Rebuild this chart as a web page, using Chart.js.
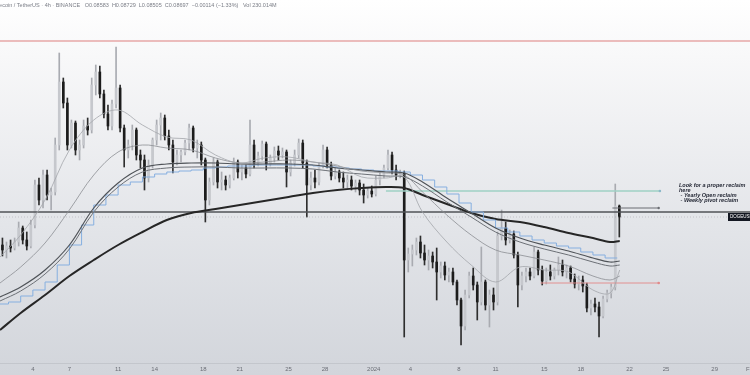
<!DOCTYPE html>
<html>
<head>
<meta charset="utf-8">
<script src="https://cdn.jsdelivr.net/npm/chart.js@4.4.1/dist/chart.umd.min.js"></script>
<style>
  html, body { margin: 0; padding: 0; background: #fff; }
  #wrap { width: 750px; height: 375px; position: relative; }
</style>
</head>
<body>
<div id="wrap"><canvas id="chart"></canvas></div>
<script>
// x positions are days counted from Dec 1 (Jan 1 = 32)
const tickDays = [4, 7, 11, 14, 18, 21, 25, 28, 32, 35, 39, 42, 46, 49, 53, 56, 60, 63];
const tickLabels = ['4', '7', '11', '14', '18', '21', '25', '28', '2024', '4', '8', '11', '15', '18', '22', '25', '29', 'Feb'];

// candles, one every 8h starting at day 1.5
const firstDay = 1.5;
const candleStep = 1 / 3;

const opens = [
  0.0837, 0.0832, 0.0836, 0.0834, 0.0840, 0.0854, 0.0842, 0.0836, 0.0857, 0.0897,
  0.0882, 0.0907, 0.0887, 0.0890, 0.0937, 0.1000, 0.0979, 0.0937, 0.0959, 0.0932,
  0.0937, 0.0956, 0.0952, 0.0997, 0.1010, 0.0988, 0.0968, 0.0956, 0.0978, 0.0994,
  0.0954, 0.0932, 0.0937, 0.0952, 0.0927, 0.0922, 0.0904, 0.0917, 0.0942, 0.0957,
  0.0964, 0.0946, 0.0937, 0.0920, 0.0927, 0.0930, 0.0939, 0.0954, 0.0934, 0.0937,
  0.0922, 0.0882, 0.0900, 0.0920, 0.0900, 0.0902, 0.0897, 0.0904, 0.0920, 0.0910,
  0.0914, 0.0908, 0.0937, 0.0919, 0.0926, 0.0938, 0.0918, 0.0924, 0.0931, 0.0927,
  0.0930, 0.0910, 0.0919, 0.0927, 0.0939, 0.0919, 0.0897, 0.0904, 0.0900, 0.0916,
  0.0932, 0.0917, 0.0906, 0.0910, 0.0904, 0.0900, 0.0902, 0.0896, 0.0899, 0.0892,
  0.0887, 0.0891, 0.0888, 0.0902, 0.0907, 0.0914, 0.0927, 0.0912, 0.0907, 0.0909,
  0.0822, 0.0828, 0.0832, 0.0840, 0.0829, 0.0822, 0.0826, 0.0820, 0.0810, 0.0816,
  0.0807, 0.0810, 0.0800, 0.0782, 0.0756, 0.0787, 0.0806, 0.0797, 0.0780, 0.0800,
  0.0777, 0.0787, 0.0780, 0.0846, 0.0854, 0.0842, 0.0848, 0.0827, 0.0797, 0.0806,
  0.0810, 0.0806, 0.0830, 0.0812, 0.0801, 0.0810, 0.0806, 0.0812, 0.0817, 0.0810,
  0.0814, 0.0803, 0.0798, 0.0802, 0.0796, 0.0774, 0.0778, 0.0775, 0.0766, 0.0783,
  0.0789, 0.0795, 0.0876
];
const highs = [
  0.0844, 0.0840, 0.0842, 0.0844, 0.0860, 0.0856, 0.0850, 0.0862, 0.0902, 0.0904,
  0.0912, 0.0912, 0.0894, 0.0944, 0.1029, 0.1004, 0.0984, 0.0962, 0.0961, 0.0942,
  0.0962, 0.0964, 0.1004, 0.1017, 0.1016, 0.0992, 0.0977, 0.0982, 0.1035, 0.0997,
  0.0957, 0.0942, 0.0957, 0.0954, 0.0932, 0.0927, 0.0922, 0.0944, 0.0962, 0.0969,
  0.0967, 0.0952, 0.0942, 0.0932, 0.0932, 0.0942, 0.0958, 0.0956, 0.0942, 0.0940,
  0.0924, 0.0904, 0.0924, 0.0922, 0.0910, 0.0906, 0.0907, 0.0924, 0.0922, 0.0917,
  0.0917, 0.0962, 0.0942, 0.0930, 0.0941, 0.0940, 0.0927, 0.0935, 0.0936, 0.0934,
  0.0932, 0.0922, 0.0932, 0.0943, 0.0942, 0.0922, 0.0910, 0.0912, 0.0919, 0.0937,
  0.0935, 0.0920, 0.0914, 0.0912, 0.0910, 0.0907, 0.0906, 0.0902, 0.0902, 0.0898,
  0.0894, 0.0896, 0.0906, 0.0910, 0.0917, 0.0932, 0.0930, 0.0917, 0.0912, 0.0911,
  0.0834, 0.0837, 0.0844, 0.0846, 0.0837, 0.0832, 0.0830, 0.0834, 0.0820, 0.0820,
  0.0814, 0.0814, 0.0802, 0.0784, 0.0792, 0.0810, 0.0814, 0.0800, 0.0835, 0.0802,
  0.0792, 0.0794, 0.0850, 0.0872, 0.0860, 0.0852, 0.0851, 0.0830, 0.0810, 0.0814,
  0.0814, 0.0835, 0.0832, 0.0816, 0.0814, 0.0817, 0.0814, 0.0825, 0.0822, 0.0817,
  0.0816, 0.0808, 0.0806, 0.0806, 0.0799, 0.0782, 0.0784, 0.0780, 0.0786, 0.0792,
  0.0798, 0.0898, 0.0877
];
const lows = [
  0.0826, 0.0824, 0.0830, 0.0832, 0.0836, 0.0838, 0.0832, 0.0834, 0.0854, 0.0877,
  0.0874, 0.0882, 0.0872, 0.0887, 0.0932, 0.0974, 0.0932, 0.0934, 0.0927, 0.0922,
  0.0934, 0.0947, 0.0949, 0.0987, 0.0984, 0.0964, 0.0952, 0.0952, 0.0974, 0.0950,
  0.0915, 0.0924, 0.0932, 0.0922, 0.0914, 0.0892, 0.0900, 0.0914, 0.0937, 0.0942,
  0.0942, 0.0932, 0.0909, 0.0917, 0.0920, 0.0927, 0.0932, 0.0930, 0.0924, 0.0917,
  0.0860, 0.0877, 0.0897, 0.0894, 0.0892, 0.0892, 0.0894, 0.0902, 0.0904, 0.0902,
  0.0904, 0.0906, 0.0914, 0.0916, 0.0922, 0.0912, 0.0916, 0.0920, 0.0922, 0.0924,
  0.0895, 0.0906, 0.0916, 0.0924, 0.0914, 0.0865, 0.0892, 0.0894, 0.0897, 0.0914,
  0.0914, 0.0902, 0.0903, 0.0900, 0.0894, 0.0894, 0.0892, 0.0890, 0.0887, 0.0879,
  0.0884, 0.0885, 0.0886, 0.0897, 0.0904, 0.0912, 0.0908, 0.0902, 0.0904, 0.0745,
  0.0810, 0.0816, 0.0827, 0.0824, 0.0817, 0.0812, 0.0814, 0.0782, 0.0804, 0.0802,
  0.0800, 0.0797, 0.0777, 0.0737, 0.0752, 0.0784, 0.0792, 0.0762, 0.0777, 0.0772,
  0.0755, 0.0772, 0.0777, 0.0842, 0.0837, 0.0839, 0.0824, 0.0775, 0.0792, 0.0800,
  0.0802, 0.0804, 0.0807, 0.0797, 0.0798, 0.0802, 0.0803, 0.0807, 0.0806, 0.0804,
  0.0800, 0.0794, 0.0792, 0.0790, 0.0770, 0.0767, 0.0770, 0.0745, 0.0764, 0.0780,
  0.0784, 0.0792, 0.0845
];
const closes = [
  0.0832, 0.0836, 0.0834, 0.0840, 0.0854, 0.0842, 0.0836, 0.0857, 0.0897, 0.0882,
  0.0907, 0.0887, 0.0890, 0.0937, 0.1000, 0.0979, 0.0937, 0.0959, 0.0932, 0.0937,
  0.0956, 0.0952, 0.0997, 0.1010, 0.0988, 0.0968, 0.0956, 0.0978, 0.0994, 0.0954,
  0.0932, 0.0937, 0.0952, 0.0927, 0.0922, 0.0904, 0.0917, 0.0942, 0.0957, 0.0964,
  0.0946, 0.0937, 0.0920, 0.0927, 0.0930, 0.0939, 0.0954, 0.0934, 0.0937, 0.0922,
  0.0882, 0.0900, 0.0920, 0.0900, 0.0902, 0.0897, 0.0904, 0.0920, 0.0910, 0.0914,
  0.0908, 0.0937, 0.0919, 0.0926, 0.0938, 0.0918, 0.0924, 0.0931, 0.0927, 0.0930,
  0.0910, 0.0919, 0.0927, 0.0939, 0.0919, 0.0897, 0.0904, 0.0900, 0.0916, 0.0932,
  0.0917, 0.0906, 0.0910, 0.0904, 0.0900, 0.0902, 0.0896, 0.0899, 0.0892, 0.0887,
  0.0891, 0.0888, 0.0902, 0.0907, 0.0914, 0.0927, 0.0912, 0.0907, 0.0909, 0.0822,
  0.0828, 0.0832, 0.0840, 0.0829, 0.0822, 0.0826, 0.0820, 0.0810, 0.0816, 0.0807,
  0.0810, 0.0800, 0.0782, 0.0756, 0.0787, 0.0806, 0.0797, 0.0780, 0.0800, 0.0777,
  0.0787, 0.0780, 0.0846, 0.0854, 0.0842, 0.0848, 0.0827, 0.0797, 0.0806, 0.0810,
  0.0806, 0.0830, 0.0812, 0.0801, 0.0810, 0.0806, 0.0812, 0.0817, 0.0810, 0.0814,
  0.0803, 0.0798, 0.0802, 0.0796, 0.0774, 0.0778, 0.0775, 0.0766, 0.0783, 0.0789,
  0.0795, 0.0876, 0.0865
];

// moving averages sampled along the chart
const maDays = [1.3, 3, 5, 7, 9, 11, 13, 15, 17, 19, 21, 23, 25, 27, 29, 31, 33, 34.5, 36, 38, 40, 42, 44, 46, 48, 50, 51.4, 52.2];
const ema21 = [0.0825, 0.0847, 0.0882, 0.0932, 0.0962, 0.0972, 0.0957, 0.0945, 0.0942, 0.0927, 0.0919, 0.0924, 0.0925, 0.0920, 0.0917, 0.0905, 0.0904, 0.0905, 0.0870, 0.0840, 0.0817, 0.0800, 0.0815, 0.0812, 0.0810, 0.0792, 0.0789, 0.0812];
const ema55 = [0.0799, 0.0815, 0.0839, 0.0872, 0.0907, 0.0930, 0.0937, 0.0934, 0.0932, 0.0924, 0.0919, 0.0920, 0.0922, 0.0920, 0.0916, 0.0911, 0.0909, 0.0907, 0.0890, 0.0867, 0.0847, 0.0832, 0.0827, 0.0822, 0.0816, 0.0806, 0.0802, 0.0806];
const ema100 = [0.0785, 0.0795, 0.0812, 0.0837, 0.0874, 0.0899, 0.0914, 0.0918, 0.0919, 0.0919, 0.0918, 0.0918, 0.0918, 0.0917, 0.0914, 0.0912, 0.0910, 0.0909, 0.0900, 0.0884, 0.0869, 0.0854, 0.0844, 0.0837, 0.0831, 0.0824, 0.0820, 0.0821];
const sma100 = [0.0781, 0.0791, 0.0808, 0.0833, 0.0870, 0.0895, 0.0910, 0.0914, 0.0915, 0.0915, 0.0914, 0.0914, 0.0914, 0.0913, 0.0910, 0.0908, 0.0906, 0.0905, 0.0896, 0.0880, 0.0865, 0.0850, 0.0840, 0.0833, 0.0827, 0.0820, 0.0816, 0.0817];
const ema200 = [0.0752, 0.0769, 0.0787, 0.0806, 0.0822, 0.0837, 0.0850, 0.0862, 0.0869, 0.0873, 0.0877, 0.0881, 0.0885, 0.0889, 0.0892, 0.0894, 0.0895, 0.0894, 0.0887, 0.0878, 0.0869, 0.0863, 0.0860, 0.0855, 0.0849, 0.0844, 0.0840, 0.0841];

// blue stepped line
const stepDays = [1.3, 2, 3, 4, 5, 6, 7, 8, 9, 10, 11, 12, 13, 14, 15, 16, 17, 18, 19, 20, 21, 22, 23, 24, 25, 26, 27, 28, 29, 30, 31, 32, 33, 34, 35, 36, 37, 38, 39, 40, 41, 42, 43, 44, 45, 46, 47, 48, 49, 50, 51, 52];
const stepLine = [0.0778, 0.0780, 0.0786, 0.0792, 0.0800, 0.0817, 0.0837, 0.0857, 0.0877, 0.0887, 0.0897, 0.0900, 0.0905, 0.0908, 0.0910, 0.0911, 0.0912, 0.0914, 0.0915, 0.0916, 0.0916, 0.0917, 0.0917, 0.0917, 0.0917, 0.0917, 0.0916, 0.0915, 0.0914, 0.0913, 0.0912, 0.0911, 0.0911, 0.0910, 0.0907, 0.0902, 0.0895, 0.0888, 0.0879, 0.0870, 0.0862, 0.0854, 0.0850, 0.0846, 0.0842, 0.0839, 0.0836, 0.0834, 0.0830, 0.0827, 0.0824, 0.0824];

// drawn levels
const resistance = 0.1041;
const yearlyOpen = 0.0870;
const reclaimLevel = 0.0891;
const retestLevel = 0.0874;
const supportLevel = 0.0799;
const lastPrice = closes[closes.length - 1];

const xMin = 1.3, xMax = 62.9;
const candleX = opens.map((_, i) => firstDay + i * candleStep);
const isUp = i => closes[i] >= opens[i];

let line = (xs, ys, color, width, extra) => Object.assign({
  type: 'line',
  data: xs.map((x, i) => ({ x: x, y: ys[i] })),
  borderColor: color,
  borderWidth: width,
  pointRadius: 0,
  pointHoverRadius: 0,
  tension: 0.35,
  fill: false,
  order: 1
}, extra || {});

let level = (y, from, to, color, width, extra) => line([from, to], [y, y], color, width, Object.assign({ tension: 0 }, extra || {}));

// background, title, note and price tag
const decor = {
  id: 'decor',
  beforeDraw(chart) {
    const c = chart.ctx;
    const g = c.createLinearGradient(0, 0, 0, chart.height);
    g.addColorStop(0, '#ffffff');
    g.addColorStop(0.15, '#f8f8f9');
    g.addColorStop(0.6, '#e3e5e9');
    g.addColorStop(1, '#d2d5db');
    c.save();
    c.fillStyle = g;
    c.fillRect(0, 0, chart.width, chart.height);
    c.restore();
  },
  afterDraw(chart) {
    const c = chart.ctx;
    const y = chart.scales.y;
    c.save();
    c.fillStyle = '#7a7d86';
    c.font = '5.5px "Liberation Sans"';
    c.textBaseline = 'middle';
    c.fillText('Dogecoin / TetherUS \u00b7 4h \u00b7 BINANCE   O0.08583  H0.08729  L0.08505  C0.08697  \u22120.00114 (\u22121.33%)   Vol 230.014M', -11, 5);

    c.fillStyle = '#1f2330';
    c.font = 'italic bold 5.5px "Liberation Sans"';
    const note = ['Look for a proper reclaim', 'here', ' - Yearly Open reclaim', ' - Weekly pivot reclaim'];
    note.forEach((t, i) => c.fillText(t, 679, 185 + i * 5.2));

    const py = y.getPixelForValue(lastPrice);
    c.fillStyle = '#131722';
    c.fillRect(728, py - 4, 22, 8);
    c.fillStyle = '#ffffff';
    c.font = '4.5px "Liberation Sans"';
    c.fillText('DOGEUSDT', 730, py);
    c.restore();
  }
};

new Chart(document.getElementById('chart'), {
  type: 'bar',
  data: {
    datasets: [
      {
        label: 'wicks',
        data: candleX.map((x, i) => ({ x: x, y: [lows[i], highs[i]] })),
        backgroundColor: ctx => (ctx.dataIndex === undefined || isUp(ctx.dataIndex)) ? '#a9abb1' : '#2e2e2e',
        barThickness: 1,
        grouped: false,
        order: 4
      },
      {
        label: 'bodies',
        data: candleX.map((x, i) => ({ x: x, y: [opens[i], closes[i]] })),
        backgroundColor: ctx => (ctx.dataIndex === undefined || isUp(ctx.dataIndex)) ? '#c6c8cd' : '#1c1c1c',
        barThickness: 2,
        minBarLength: 1,
        grouped: false,
        order: 3
      },
      line(maDays, ema21, '#a3a6ab', 0.8),
      line(maDays, ema55, '#8b8e93', 0.8),
      line(maDays, sma100, '#6c7076', 1),
      line(maDays, ema100, '#4f5358', 1.2),
      line(stepDays, stepLine, '#86afe0', 1, { stepped: 'before', tension: 0 }),
      line(maDays, ema200, '#262626', 2),
      level(resistance, xMin, xMax, 'rgba(214, 96, 96, 0.8)', 1),
      level(yearlyOpen, xMin, xMax, '#505357', 1.5),
      level(lastPrice, xMin, xMax, 'rgba(150, 154, 162, 0.45)', 1, { borderDash: [1, 2] }),
      level(reclaimLevel, 33.0, 55.5, '#9fd0c5', 1.5, { pointRadius: [0, 1.3], pointBackgroundColor: '#8bb8c8', pointBorderWidth: 0 }),
      level(retestLevel, 51.6, 55.4, '#6a6d72', 1, { pointRadius: [0, 1.2], pointBackgroundColor: '#6a6d72', pointBorderWidth: 0 }),
      level(supportLevel, 45.7, 55.4, '#e29090', 1, { pointRadius: [0, 1.3], pointBackgroundColor: '#e08a8a', pointBorderWidth: 0 })
    ]
  },
  options: {
    animation: false,
    responsive: true,
    maintainAspectRatio: false,
    layout: { padding: 0, autoPadding: false },
    plugins: { legend: { display: false }, tooltip: { enabled: false } },
    scales: {
      x: {
        type: 'linear',
        min: xMin,
        max: xMax,
        offset: false,
        grid: { display: false, drawTicks: false },
        border: { display: true, color: '#c3c6cc' },
        afterBuildTicks: scale => { scale.ticks = tickDays.map(v => ({ value: v })); },
        afterFit: scale => {
          scale.height = 12;
          scale.paddingLeft = 0;
          scale.paddingRight = 0;
        },
        ticks: {
          autoSkip: false,
          maxRotation: 0,
          padding: 3,
          color: '#6b6e76',
          font: { size: 6, family: 'Liberation Sans' },
          callback: v => tickLabels[tickDays.indexOf(v)]
        }
      },
      y: {
        type: 'linear',
        display: false,
        min: 0.0719,
        max: 0.1082
      }
    }
  },
  plugins: [decor]
});
</script>
</body>
</html>
